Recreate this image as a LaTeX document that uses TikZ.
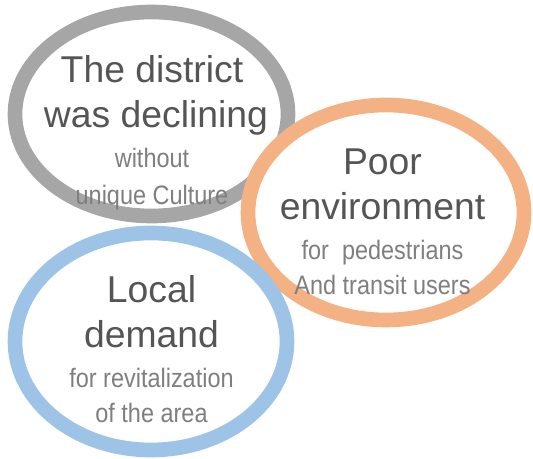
\documentclass[tikz,border=0pt]{standalone}
\usepackage{fontspec}
\setmainfont{Liberation Sans}
\definecolor{ringgray}{HTML}{A6A6A6}
\definecolor{ringorange}{HTML}{F4B183}
\definecolor{ringblue}{HTML}{9DC3E6}
\definecolor{headtext}{HTML}{555555}
\definecolor{subtext}{HTML}{7F7F7F}
\tikzset{
  ring/.style={line width=11pt, fill=white},
  head/.style={anchor=base, text=headtext, inner sep=0pt, font=\fontsize{28}{34}\selectfont},
  sub/.style={anchor=base, text=subtext, inner sep=0pt, xscale=0.88, font=\fontsize{20}{24}\selectfont},
}
\begin{document}
\begin{tikzpicture}[x=0.75pt, y=-0.75pt]
    \useasboundingbox (0,0) rectangle (533,459);
    % three overlapping rings, later ones on top
    \draw[ring, draw=ringgray] (151.5,114) ellipse [x radius=136.5, y radius=102];
    \draw[ring, draw=ringorange] (386,212.5) ellipse [x radius=138, y radius=107.5];
    \draw[ring, draw=ringblue] (151,341.5) ellipse [x radius=136, y radius=108.5];
    % gray ring text
    \node[head] (decline1) at (152,83) {The district};
    \node[head] (decline2) at (156,128) {was declining};
    \node[sub] (culture1) at (152,168) {without};
    \node[sub] (culture2) at (152,205) {unique Culture};
    % orange ring text
    \node[head] (poor1) at (382.5,175) {Poor};
    \node[head] (poor2) at (382.5,220) {environment};
    \node[sub] (users1) at (382.5,260) {for\ \ pedestrians};
    \node[sub] (users2) at (382.5,295) {And transit users};
    % blue ring text
    \node[head] (local1) at (151.5,303) {Local};
    \node[head] (local2) at (151.5,348) {demand};
    \node[sub] (area1) at (151.5,388) {for revitalization};
    \node[sub] (area2) at (151.5,423) {of the area};
\end{tikzpicture}
\end{document}
